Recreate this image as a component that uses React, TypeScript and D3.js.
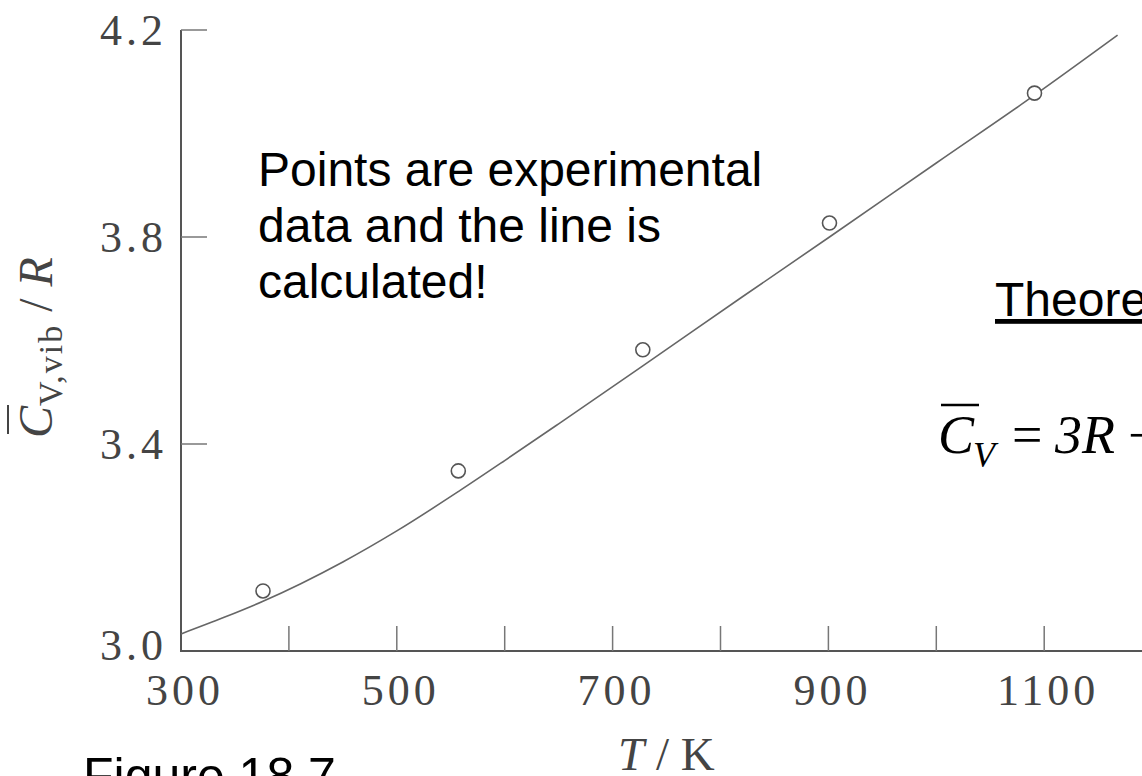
import React from 'react';
import * as d3 from 'd3';

const W = 1142;
const H = 776;

// Axis ticks
const tempMinorTicks = [400, 500, 600, 700, 800, 900, 1000, 1100];
const tempLabels = [300, 500, 700, 900, 1100];
const cvTicks = [3.0, 3.4, 3.8, 4.2];

// Experimental points
const expT = [376, 557, 728, 901, 1091];
const expCv = [3.116, 3.348, 3.582, 3.827, 4.078];

// Calculated curve
const calcT = [300, 340, 376, 411, 450, 500, 557, 600, 650, 728, 820, 901, 1000, 1091, 1168];
const calcCv = [3.033, 3.065, 3.096, 3.13, 3.172, 3.232, 3.308, 3.368, 3.439, 3.551, 3.684, 3.8, 3.943, 4.074, 4.19];

const noteLines = ['Points are experimental', 'data and the line is', 'calculated!'];

const serif = '"Liberation Serif", "Times New Roman", "DejaVu Serif", serif';
const sans = '"Liberation Sans", Arial, Helvetica, sans-serif';

export default function App() {
  const x = d3.scaleLinear().domain([300, 1200]).range([181, 1152.1]);
  const y = d3.scaleLinear().domain([3.0, 4.2]).range([651, 30]);

  const curve = calcT.map((t, i) => [t, calcCv[i]] as [number, number]);
  const line = d3
    .line<[number, number]>()
    .x((d) => x(d[0]))
    .y((d) => y(d[1]))
    .curve(d3.curveMonotoneX);

  const x0 = x(300);
  const yBase = y(3.0);

  return (
    <svg
      width={W}
      height={H}
      viewBox={`0 0 ${W} ${H}`}
      style={{ position: 'absolute', left: 0, top: 0, background: '#fff' }}
    >
      <rect x={0} y={0} width={W} height={H} fill="#fff" />

      {/* axes */}
      <line x1={x0} y1={y(4.2)} x2={x0} y2={yBase + 1} stroke="#555" strokeWidth={2} />
      <line x1={x0 - 1} y1={yBase} x2={W} y2={yBase} stroke="#555" strokeWidth={2} />

      {/* y ticks */}
      {cvTicks
        .filter((v) => v > 3.0)
        .map((v) => (
          <line key={`yt${v}`} x1={x0} y1={y(v)} x2={x0 + 26} y2={y(v)} stroke="#777" strokeWidth={1.5} />
        ))}
      {cvTicks.map((v) => (
        <text
          key={`yl${v}`}
          x={x0 - 14}
          y={y(v) - (v === 3.0 ? 6 : 0)}
          textAnchor="end"
          dominantBaseline="central"
          fontFamily={serif}
          fontSize={44}
          letterSpacing={4}
          fill="#444"
        >
          {v.toFixed(1)}
        </text>
      ))}

      {/* x ticks */}
      {tempMinorTicks.map((t) => (
        <line key={`xt${t}`} x1={x(t)} y1={yBase} x2={x(t)} y2={yBase - 25} stroke="#777" strokeWidth={1.5} />
      ))}
      {tempLabels.map((t) => (
        <text
          key={`xl${t}`}
          x={x(t) + 4}
          y={705}
          textAnchor="middle"
          fontFamily={serif}
          fontSize={44}
          letterSpacing={4}
          fill="#444"
        >
          {t}
        </text>
      ))}

      {/* axis titles */}
      <text x={618} y={770} fontFamily={serif} fontSize={47} fill="#444">
        <tspan fontStyle="italic">T</tspan>
        <tspan> / K</tspan>
      </text>

      <g transform="translate(52, 438) rotate(-90)">
        <text x={0} y={0} fontFamily={serif} fontSize={48} fill="#444">
          <tspan fontStyle="italic">C</tspan>
          <tspan fontSize={34} dy={10} letterSpacing={2}>
            V,vib
          </tspan>
          <tspan dy={-10}> / </tspan>
          <tspan fontStyle="italic">R</tspan>
        </text>
        <line x1={4} y1={-44} x2={33} y2={-44} stroke="#444" strokeWidth={2} />
      </g>

      {/* calculated curve */}
      <path d={line(curve) ?? ''} fill="none" stroke="#666" strokeWidth={1.6} />

      {/* experimental points */}
      {expT.map((t, i) => (
        <circle key={`p${t}`} cx={x(t)} cy={y(expCv[i])} r={7} fill="#fff" stroke="#555" strokeWidth={1.6} />
      ))}

      {/* note */}
      <text fontFamily={sans} fontSize={48} fill="#000">
        {noteLines.map((s, i) => (
          <tspan key={s} x={258} y={186 + i * 56}>
            {s}
          </tspan>
        ))}
      </text>

      {/* theory heading and formula */}
      <text x={995} y={316} fontFamily={sans} fontSize={48} fill="#000" textDecoration="underline">
        Theoretical
      </text>

      <g fontFamily={serif} fill="#000">
        <text x={938} y={453} fontSize={54} fontStyle="italic">C</text>
        <line x1={941} y1={405} x2={979} y2={405} stroke="#000" strokeWidth={2.5} />
        <text x={973} y={467} fontSize={36} fontStyle="italic">V</text>
        <text x={1012} y={453} fontSize={54}>=</text>
        <text x={1055} y={453} fontSize={54} fontStyle="italic">3R</text>
        <text x={1128} y={453} fontSize={54}>−</text>
      </g>

      {/* caption */}
      <text x={83} y={793} fontFamily={sans} fontSize={50} fill="#000">
        Figure 18.7
      </text>
    </svg>
  );
}
